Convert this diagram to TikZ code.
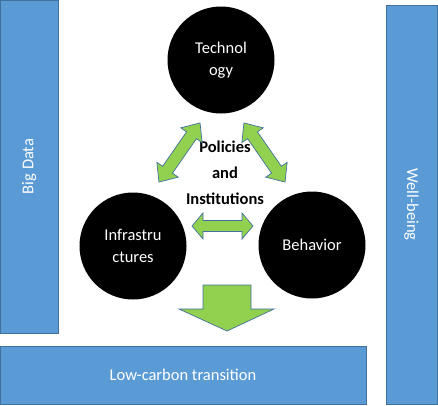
\documentclass[tikz,border=0pt]{standalone}
\usepackage{fontspec}
\setmainfont{Carlito}
\definecolor{barblue}{HTML}{5B9BD5}
\definecolor{edgeblue}{HTML}{41719C}
\definecolor{arrgreen}{HTML}{92D050}
\newcommand\dblarrow[6]{% x, y, angle, half length, head length, shaft half width
  \begin{scope}[shift={(#1,#2)},rotate=#3]
    \draw[greenarrow] (-#4,0) -- ({-#4+#5},13) -- ({-#4+#5},#6) -- ({#4-#5},#6) -- ({#4-#5},13) -- (#4,0)
      -- ({#4-#5},-13) -- ({#4-#5},-#6) -- ({-#4+#5},-#6) -- ({-#4+#5},-13) -- cycle;
  \end{scope}}
\tikzset{
  bar/.style={draw=edgeblue, fill=barblue, line width=0.8pt, text=white, font=\fontsize{16.5}{19}\selectfont, inner sep=0pt},
  greenarrow/.style={draw=edgeblue, fill=arrgreen, line width=0.7pt, line join=miter},
  factor/.style={circle, fill=black, minimum size=107pt, inner sep=0pt, text=white, align=center, font=\fontsize{16.5}{21.5}\selectfont},
  centre/.style={align=center, font=\bfseries\fontsize{16.5}{26}\selectfont}
}
\begin{document}
\begin{tikzpicture}[x=1pt,y=-1pt]
\useasboundingbox (0,0) rectangle (438,405);
% bars
\draw[bar] (0.5,0.5) rectangle (58,333);
\node[bar, draw=none, fill=none, rotate=90] (bigdata) at (29,166.5) {Big Data};
\draw[bar] (386,5) rectangle (437.5,404);
\node[bar, draw=none, fill=none, rotate=-90] (wellbeing) at (411.5,204.5) {Well-being};
\draw[bar] (0.5,346) rectangle (366,404);
\node[bar, draw=none, fill=none] (lowcarbon) at (183,375) {Low-carbon transition};
% circles
\node[factor] (tech) at (221,60) {Technol\\ogy};
\node[factor] (infra) at (133,246) {Infrastru\\ctures};
\node[factor] (behav) at (312,245) {Behavior};
% centre text
\node[centre] (policies) at (225,173) {Policies\\and\\Institutions};
% arrows
\dblarrow{179.5}{152.5}{55.2}{36}{15}{6}
\dblarrow{264.5}{152.5}{-55.2}{36}{15}{6}
\dblarrow{222.5}{226}{0}{30.5}{11}{5.5}
\draw[greenarrow] (203,285) -- (251,285) -- (251,309) -- (274,309) -- (227,331) -- (179,309) -- (203,309) -- cycle;
\end{tikzpicture}
\end{document}
